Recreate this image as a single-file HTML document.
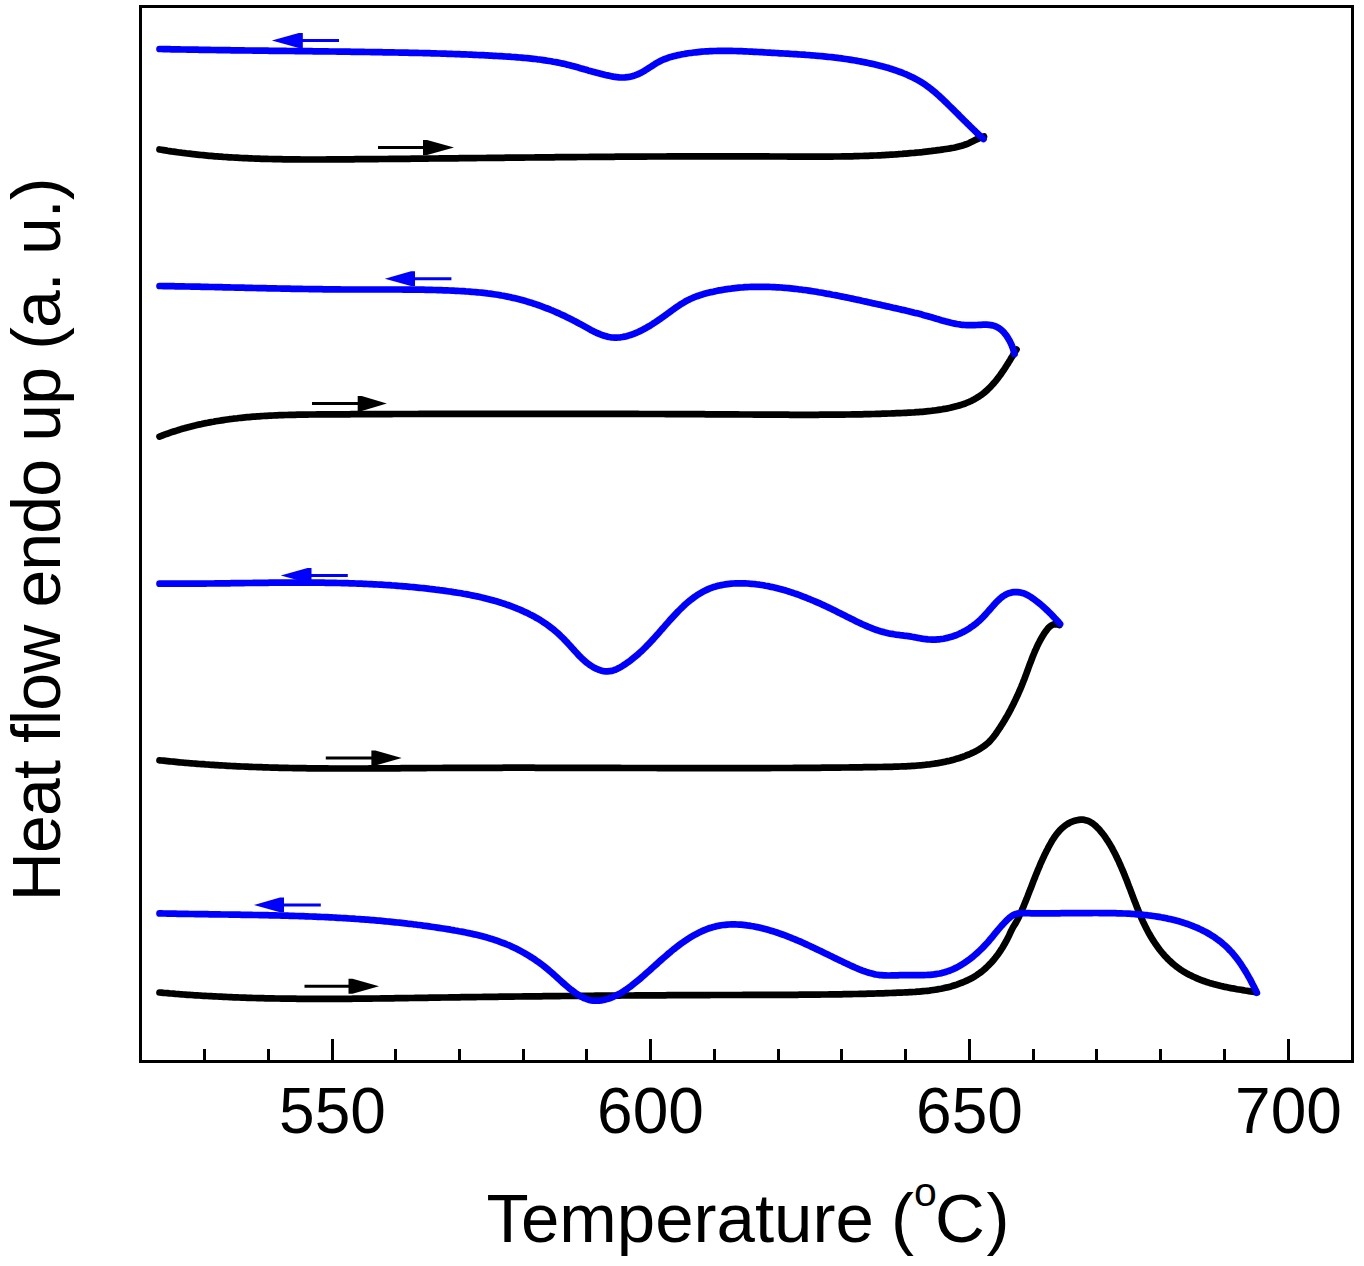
<!DOCTYPE html>
<html><head><meta charset="utf-8"><style>
html,body{margin:0;padding:0;background:#fff;}
body{width:1364px;height:1266px;overflow:hidden;position:relative;}
svg{position:absolute;left:0;top:0;}
.t{font-family:"Liberation Sans",sans-serif;font-size:64px;fill:#000;}
</style></head><body>
<svg width="1364" height="1266" viewBox="0 0 1364 1266">
<rect x="140.5" y="6.5" width="1212" height="1055" fill="none" stroke="#000" stroke-width="3"/>
<line x1="204.5" y1="1049" x2="204.5" y2="1060" stroke="#000" stroke-width="3"/>
<line x1="268.5" y1="1049" x2="268.5" y2="1060" stroke="#000" stroke-width="3"/>
<line x1="332.5" y1="1039" x2="332.5" y2="1060" stroke="#000" stroke-width="3"/>
<line x1="395.5" y1="1049" x2="395.5" y2="1060" stroke="#000" stroke-width="3"/>
<line x1="459.5" y1="1049" x2="459.5" y2="1060" stroke="#000" stroke-width="3"/>
<line x1="523.5" y1="1049" x2="523.5" y2="1060" stroke="#000" stroke-width="3"/>
<line x1="586.5" y1="1049" x2="586.5" y2="1060" stroke="#000" stroke-width="3"/>
<line x1="650.5" y1="1039" x2="650.5" y2="1060" stroke="#000" stroke-width="3"/>
<line x1="714.5" y1="1049" x2="714.5" y2="1060" stroke="#000" stroke-width="3"/>
<line x1="778.5" y1="1049" x2="778.5" y2="1060" stroke="#000" stroke-width="3"/>
<line x1="841.5" y1="1049" x2="841.5" y2="1060" stroke="#000" stroke-width="3"/>
<line x1="905.5" y1="1049" x2="905.5" y2="1060" stroke="#000" stroke-width="3"/>
<line x1="969.5" y1="1039" x2="969.5" y2="1060" stroke="#000" stroke-width="3"/>
<line x1="1033.5" y1="1049" x2="1033.5" y2="1060" stroke="#000" stroke-width="3"/>
<line x1="1096.5" y1="1049" x2="1096.5" y2="1060" stroke="#000" stroke-width="3"/>
<line x1="1160.5" y1="1049" x2="1160.5" y2="1060" stroke="#000" stroke-width="3"/>
<line x1="1224.5" y1="1049" x2="1224.5" y2="1060" stroke="#000" stroke-width="3"/>
<line x1="1288.5" y1="1039" x2="1288.5" y2="1060" stroke="#000" stroke-width="3"/>
<path d="M159.5,149.5 L161.5,149.8 L163.5,150.1 L165.5,150.4 L167.4,150.8 L169.4,151.1 L171.4,151.4 L173.4,151.6 L175.4,151.9 L177.4,152.2 L179.4,152.5 L181.4,152.7 L183.3,153.0 L185.3,153.2 L187.3,153.5 L189.3,153.7 L191.3,153.9 L193.3,154.2 L195.3,154.4 L197.3,154.6 L199.3,154.8 L201.3,155.0 L203.3,155.2 L205.3,155.4 L207.3,155.6 L209.2,155.8 L211.2,155.9 L213.2,156.1 L215.2,156.3 L217.2,156.4 L219.2,156.6 L221.2,156.7 L223.2,156.9 L225.2,157.0 L227.2,157.1 L229.2,157.3 L231.2,157.4 L233.2,157.5 L235.2,157.6 L237.2,157.7 L239.2,157.8 L241.2,158.0 L243.2,158.1 L245.2,158.1 L247.2,158.2 L249.2,158.3 L251.2,158.4 L253.2,158.5 L255.2,158.6 L257.2,158.6 L259.2,158.7 L261.2,158.8 L263.2,158.8 L265.2,158.9 L267.2,158.9 L269.2,159.0 L271.2,159.0 L273.2,159.1 L275.2,159.1 L277.2,159.2 L279.2,159.2 L281.2,159.2 L283.2,159.3 L285.2,159.3 L287.2,159.3 L289.2,159.4 L291.2,159.4 L293.3,159.4 L295.3,159.4 L297.3,159.4 L299.3,159.4 L301.3,159.5 L303.3,159.5 L305.3,159.5 L307.3,159.5 L309.3,159.5 L311.3,159.5 L313.3,159.5 L315.3,159.5 L317.3,159.5 L319.3,159.5 L321.3,159.5 L323.3,159.5 L325.3,159.5 L327.3,159.4 L329.3,159.4 L331.3,159.4 L333.3,159.4 L335.3,159.4 L337.4,159.4 L339.4,159.4 L341.4,159.4 L343.4,159.3 L345.4,159.3 L347.4,159.3 L349.4,159.3 L351.4,159.3 L353.4,159.3 L355.4,159.2 L357.4,159.2 L359.4,159.2 L361.4,159.2 L363.4,159.2 L365.4,159.2 L367.4,159.1 L369.4,159.1 L371.4,159.1 L373.4,159.1 L375.4,159.1 L377.4,159.1 L379.5,159.0 L381.5,159.0 L383.5,159.0 L385.5,159.0 L387.5,159.0 L389.5,158.9 L391.5,158.9 L393.5,158.9 L395.5,158.9 L397.5,158.9 L399.5,158.8 L401.5,158.8 L403.5,158.8 L405.5,158.8 L407.5,158.8 L409.5,158.8 L411.5,158.7 L413.5,158.7 L415.5,158.7 L417.5,158.7 L419.5,158.7 L421.5,158.6 L423.5,158.6 L425.5,158.6 L427.5,158.6 L429.5,158.5 L431.6,158.5 L433.6,158.5 L435.6,158.5 L437.6,158.5 L439.6,158.4 L441.6,158.4 L443.6,158.4 L445.6,158.4 L447.6,158.4 L449.6,158.3 L451.6,158.3 L453.6,158.3 L455.6,158.3 L457.6,158.3 L459.6,158.2 L461.6,158.2 L463.6,158.2 L465.6,158.2 L467.6,158.1 L469.6,158.1 L471.6,158.1 L473.6,158.1 L475.6,158.1 L477.6,158.0 L479.6,158.0 L481.6,158.0 L483.6,158.0 L485.6,158.0 L487.6,157.9 L489.6,157.9 L491.6,157.9 L493.6,157.9 L495.7,157.9 L497.7,157.8 L499.7,157.8 L501.7,157.8 L503.7,157.8 L505.7,157.7 L507.7,157.7 L509.7,157.7 L511.7,157.7 L513.7,157.7 L515.7,157.6 L517.7,157.6 L519.7,157.6 L521.7,157.6 L523.7,157.6 L525.7,157.5 L527.7,157.5 L529.7,157.5 L531.7,157.5 L533.7,157.5 L535.7,157.4 L537.7,157.4 L539.7,157.4 L541.7,157.4 L543.7,157.4 L545.7,157.3 L547.7,157.3 L549.7,157.3 L551.7,157.3 L553.7,157.3 L555.7,157.2 L557.7,157.2 L559.7,157.2 L561.7,157.2 L563.7,157.2 L565.7,157.2 L567.8,157.1 L569.8,157.1 L571.8,157.1 L573.8,157.1 L575.8,157.1 L577.8,157.0 L579.8,157.0 L581.8,157.0 L583.8,157.0 L585.8,157.0 L587.8,157.0 L589.8,156.9 L591.8,156.9 L593.8,156.9 L595.8,156.9 L597.8,156.9 L599.8,156.9 L601.8,156.8 L603.8,156.8 L605.8,156.8 L607.8,156.8 L609.8,156.8 L611.8,156.8 L613.8,156.8 L615.8,156.7 L617.8,156.7 L619.8,156.7 L621.8,156.7 L623.8,156.7 L625.8,156.7 L627.8,156.7 L629.8,156.6 L631.8,156.6 L633.9,156.6 L635.9,156.6 L637.9,156.6 L639.9,156.6 L641.9,156.6 L643.9,156.6 L645.9,156.6 L647.9,156.5 L649.9,156.5 L651.9,156.5 L653.9,156.5 L655.9,156.5 L657.9,156.5 L659.9,156.5 L661.9,156.5 L663.9,156.5 L665.9,156.5 L667.9,156.4 L669.9,156.4 L671.9,156.4 L673.9,156.4 L675.9,156.4 L677.9,156.4 L679.9,156.4 L681.9,156.4 L683.9,156.4 L686.0,156.4 L688.0,156.4 L690.0,156.4 L692.0,156.4 L694.0,156.4 L696.0,156.4 L698.0,156.4 L700.0,156.4 L702.0,156.4 L704.0,156.4 L706.0,156.3 L708.0,156.3 L710.0,156.3 L712.0,156.3 L714.0,156.3 L716.0,156.3 L718.0,156.3 L720.0,156.3 L722.0,156.3 L724.0,156.3 L726.0,156.3 L728.0,156.3 L730.1,156.3 L732.1,156.3 L734.1,156.3 L736.1,156.4 L738.1,156.4 L740.1,156.4 L742.1,156.4 L744.1,156.4 L746.1,156.4 L748.1,156.4 L750.1,156.4 L752.1,156.4 L754.1,156.4 L756.1,156.4 L758.1,156.4 L760.1,156.4 L762.1,156.4 L764.1,156.4 L766.2,156.4 L768.2,156.4 L770.2,156.5 L772.2,156.5 L774.2,156.5 L776.2,156.5 L778.2,156.5 L780.2,156.5 L782.2,156.5 L784.2,156.5 L786.2,156.5 L788.2,156.6 L790.2,156.6 L792.2,156.6 L794.2,156.6 L796.2,156.6 L798.3,156.6 L800.3,156.6 L802.3,156.6 L804.3,156.6 L806.3,156.6 L808.3,156.6 L810.3,156.6 L812.3,156.6 L814.3,156.6 L816.3,156.6 L818.3,156.6 L820.3,156.6 L822.3,156.6 L824.3,156.6 L826.3,156.6 L828.3,156.6 L830.3,156.6 L832.3,156.6 L834.4,156.5 L836.4,156.5 L838.4,156.5 L840.4,156.5 L842.4,156.4 L844.4,156.4 L846.4,156.4 L848.4,156.3 L850.4,156.3 L852.4,156.3 L854.4,156.2 L856.4,156.2 L858.4,156.1 L860.4,156.0 L862.4,156.0 L864.4,155.9 L866.4,155.9 L868.4,155.8 L870.4,155.7 L872.4,155.6 L874.4,155.5 L876.4,155.5 L878.4,155.4 L880.4,155.3 L882.4,155.2 L884.4,155.1 L886.4,154.9 L888.4,154.8 L890.4,154.7 L892.4,154.6 L894.4,154.5 L896.4,154.3 L898.4,154.2 L900.3,154.0 L902.3,153.9 L904.3,153.7 L906.3,153.6 L908.3,153.4 L910.3,153.2 L912.3,153.0 L914.3,152.9 L916.3,152.7 L918.3,152.5 L920.3,152.3 L922.3,152.1 L924.2,151.8 L926.2,151.6 L928.2,151.4 L930.2,151.2 L932.2,150.9 L934.2,150.7 L936.2,150.4 L938.1,150.1 L940.1,149.9 L942.1,149.6 L944.1,149.3 L946.1,149.0 L948.1,148.7 L950.0,148.4 L952.0,148.0 L954.0,147.7 L955.9,147.3 L957.9,146.8 L959.8,146.3 L961.7,145.8 L963.6,145.2 L965.5,144.5 L967.4,143.8 L969.3,143.0 L971.1,142.1 L972.9,141.2 L974.7,140.3 L976.6,139.4 L978.4,138.6 L980.2,137.8 L982.1,137.1 L984.0,136.5" fill="none" stroke="#000000" stroke-width="6.7" stroke-linejoin="round" stroke-linecap="round"/>
<path d="M159.5,436.6 L161.4,435.9 L163.3,435.1 L165.2,434.4 L167.1,433.8 L169.0,433.1 L170.9,432.4 L172.8,431.8 L174.8,431.2 L176.7,430.6 L178.6,430.0 L180.5,429.4 L182.4,428.8 L184.4,428.3 L186.3,427.7 L188.2,427.2 L190.2,426.7 L192.1,426.2 L194.1,425.7 L196.0,425.3 L197.9,424.8 L199.9,424.4 L201.8,424.0 L203.8,423.5 L205.7,423.1 L207.7,422.8 L209.7,422.4 L211.6,422.0 L213.6,421.7 L215.5,421.3 L217.5,421.0 L219.5,420.7 L221.4,420.4 L223.4,420.1 L225.4,419.8 L227.3,419.5 L229.3,419.2 L231.3,419.0 L233.3,418.7 L235.2,418.5 L237.2,418.3 L239.2,418.0 L241.2,417.8 L243.2,417.6 L245.2,417.4 L247.1,417.2 L249.1,417.1 L251.1,416.9 L253.1,416.7 L255.1,416.6 L257.1,416.4 L259.1,416.3 L261.1,416.1 L263.1,416.0 L265.1,415.9 L267.1,415.8 L269.1,415.7 L271.1,415.6 L273.1,415.5 L275.1,415.4 L277.1,415.3 L279.1,415.2 L281.1,415.2 L283.1,415.1 L285.1,415.0 L287.1,415.0 L289.1,414.9 L291.1,414.8 L293.1,414.8 L295.1,414.8 L297.1,414.7 L299.1,414.7 L301.1,414.6 L303.1,414.6 L305.2,414.6 L307.2,414.6 L309.2,414.5 L311.2,414.5 L313.2,414.5 L315.2,414.5 L317.2,414.4 L319.2,414.4 L321.2,414.4 L323.2,414.4 L325.3,414.4 L327.3,414.4 L329.3,414.4 L331.3,414.4 L333.3,414.3 L335.3,414.3 L337.3,414.3 L339.3,414.3 L341.3,414.3 L343.3,414.3 L345.3,414.3 L347.4,414.3 L349.4,414.3 L351.4,414.2 L353.4,414.2 L355.4,414.2 L357.4,414.2 L359.4,414.2 L361.4,414.2 L363.4,414.2 L365.4,414.2 L367.4,414.2 L369.4,414.2 L371.5,414.1 L373.5,414.1 L375.5,414.1 L377.5,414.1 L379.5,414.1 L381.5,414.1 L383.5,414.1 L385.5,414.1 L387.5,414.1 L389.5,414.1 L391.5,414.1 L393.5,414.0 L395.5,414.0 L397.5,414.0 L399.5,414.0 L401.6,414.0 L403.6,414.0 L405.6,414.0 L407.6,414.0 L409.6,414.0 L411.6,414.0 L413.6,414.0 L415.6,414.0 L417.6,414.0 L419.6,413.9 L421.6,413.9 L423.6,413.9 L425.6,413.9 L427.6,413.9 L429.6,413.9 L431.6,413.9 L433.6,413.9 L435.6,413.9 L437.6,413.9 L439.6,413.9 L441.7,413.9 L443.7,413.9 L445.7,413.9 L447.7,413.9 L449.7,413.9 L451.7,413.9 L453.7,413.9 L455.7,413.8 L457.7,413.8 L459.7,413.8 L461.7,413.8 L463.7,413.8 L465.7,413.8 L467.7,413.8 L469.7,413.8 L471.7,413.8 L473.7,413.8 L475.7,413.8 L477.7,413.8 L479.7,413.8 L481.7,413.8 L483.7,413.8 L485.7,413.8 L487.7,413.8 L489.7,413.8 L491.7,413.8 L493.7,413.8 L495.7,413.8 L497.7,413.8 L499.7,413.8 L501.7,413.8 L503.7,413.8 L505.8,413.8 L507.8,413.8 L509.8,413.8 L511.8,413.8 L513.8,413.8 L515.8,413.8 L517.8,413.8 L519.8,413.8 L521.8,413.8 L523.8,413.8 L525.8,413.8 L527.8,413.8 L529.8,413.8 L531.8,413.8 L533.8,413.8 L535.8,413.8 L537.8,413.8 L539.8,413.8 L541.8,413.8 L543.8,413.8 L545.8,413.8 L547.8,413.8 L549.8,413.8 L551.8,413.8 L553.8,413.8 L555.8,413.8 L557.8,413.8 L559.8,413.8 L561.8,413.8 L563.8,413.8 L565.8,413.8 L567.8,413.8 L569.8,413.8 L571.8,413.8 L573.8,413.8 L575.8,413.8 L577.8,413.8 L579.8,413.8 L581.8,413.8 L583.8,413.8 L585.8,413.8 L587.8,413.8 L589.8,413.8 L591.8,413.8 L593.8,413.8 L595.8,413.8 L597.8,413.8 L599.8,413.8 L601.8,413.8 L603.8,413.8 L605.8,413.9 L607.8,413.9 L609.8,413.9 L611.8,413.9 L613.8,413.9 L615.8,413.9 L617.8,413.9 L619.8,413.9 L621.8,413.9 L623.8,413.9 L625.8,413.9 L627.8,413.9 L629.8,413.9 L631.8,413.9 L633.8,413.9 L635.8,413.9 L637.9,413.9 L639.9,414.0 L641.9,414.0 L643.9,414.0 L645.9,414.0 L647.9,414.0 L649.9,414.0 L651.9,414.0 L653.9,414.0 L655.9,414.0 L657.9,414.0 L659.9,414.0 L661.9,414.0 L663.9,414.0 L665.9,414.1 L667.9,414.1 L669.9,414.1 L671.9,414.1 L673.9,414.1 L675.9,414.1 L677.9,414.1 L679.9,414.1 L681.9,414.1 L683.9,414.1 L685.9,414.1 L687.9,414.2 L689.9,414.2 L691.9,414.2 L693.9,414.2 L695.9,414.2 L697.9,414.2 L699.9,414.2 L701.9,414.2 L703.9,414.2 L705.9,414.3 L707.9,414.3 L709.9,414.3 L711.9,414.3 L713.9,414.3 L715.9,414.3 L717.9,414.3 L719.9,414.3 L721.9,414.3 L723.9,414.4 L725.9,414.4 L727.9,414.4 L730.0,414.4 L732.0,414.4 L734.0,414.4 L736.0,414.4 L738.0,414.4 L740.0,414.5 L742.0,414.5 L744.0,414.5 L746.0,414.5 L748.0,414.5 L750.0,414.5 L752.0,414.5 L754.0,414.6 L756.0,414.6 L758.0,414.6 L760.0,414.6 L762.0,414.6 L764.0,414.6 L766.0,414.6 L768.0,414.6 L770.0,414.7 L772.0,414.7 L774.0,414.7 L776.0,414.7 L778.1,414.7 L780.1,414.7 L782.1,414.7 L784.1,414.7 L786.1,414.7 L788.1,414.7 L790.1,414.8 L792.1,414.8 L794.1,414.8 L796.1,414.8 L798.1,414.8 L800.1,414.8 L802.1,414.8 L804.1,414.8 L806.1,414.8 L808.1,414.8 L810.1,414.8 L812.1,414.8 L814.1,414.8 L816.1,414.8 L818.1,414.8 L820.2,414.7 L822.2,414.7 L824.2,414.7 L826.2,414.7 L828.2,414.7 L830.2,414.7 L832.2,414.7 L834.2,414.7 L836.2,414.6 L838.2,414.6 L840.2,414.6 L842.2,414.6 L844.2,414.6 L846.2,414.5 L848.2,414.5 L850.2,414.5 L852.2,414.4 L854.2,414.4 L856.2,414.4 L858.2,414.3 L860.2,414.3 L862.2,414.3 L864.3,414.2 L866.3,414.2 L868.3,414.1 L870.3,414.1 L872.3,414.0 L874.3,414.0 L876.3,413.9 L878.3,413.9 L880.3,413.8 L882.3,413.7 L884.3,413.7 L886.3,413.6 L888.3,413.5 L890.3,413.5 L892.3,413.4 L894.3,413.3 L896.3,413.2 L898.3,413.2 L900.3,413.1 L902.3,413.0 L904.3,412.9 L906.3,412.8 L908.3,412.7 L910.3,412.6 L912.3,412.5 L914.3,412.4 L916.3,412.2 L918.3,412.1 L920.3,411.9 L922.3,411.8 L924.3,411.6 L926.3,411.4 L928.3,411.2 L930.3,411.0 L932.3,410.7 L934.3,410.5 L936.3,410.2 L938.3,409.9 L940.3,409.6 L942.3,409.3 L944.3,408.9 L946.3,408.6 L948.3,408.2 L950.3,407.8 L952.3,407.3 L954.2,406.8 L956.2,406.3 L958.1,405.8 L960.0,405.2 L961.9,404.6 L963.8,404.0 L965.7,403.3 L967.5,402.5 L969.3,401.8 L971.1,401.0 L972.8,400.1 L974.6,399.2 L976.3,398.2 L977.9,397.2 L979.6,396.1 L981.2,395.0 L982.7,393.9 L984.3,392.6 L985.7,391.4 L987.2,390.1 L988.6,388.7 L990.0,387.3 L991.4,385.9 L992.7,384.4 L994.1,382.9 L995.4,381.4 L996.6,379.8 L997.9,378.2 L999.1,376.6 L1000.3,375.0 L1001.5,373.3 L1002.6,371.6 L1003.8,370.0 L1004.9,368.3 L1006.0,366.5 L1007.1,364.8 L1008.2,363.1 L1009.2,361.4 L1010.3,359.7 L1011.3,357.9 L1012.4,356.2 L1013.4,354.5 L1014.4,352.8 L1015.4,351.1 L1016.5,349.5" fill="none" stroke="#000000" stroke-width="6.7" stroke-linejoin="round" stroke-linecap="round"/>
<path d="M159.5,760.3 L161.5,760.5 L163.5,760.7 L165.5,760.9 L167.5,761.1 L169.5,761.3 L171.5,761.5 L173.5,761.7 L175.5,761.9 L177.5,762.1 L179.4,762.3 L181.4,762.5 L183.4,762.7 L185.4,762.8 L187.4,763.0 L189.4,763.2 L191.4,763.3 L193.4,763.5 L195.4,763.6 L197.4,763.8 L199.4,764.0 L201.4,764.1 L203.4,764.2 L205.4,764.4 L207.4,764.5 L209.4,764.7 L211.4,764.8 L213.4,764.9 L215.4,765.1 L217.4,765.2 L219.4,765.3 L221.4,765.4 L223.4,765.5 L225.4,765.6 L227.4,765.8 L229.4,765.9 L231.4,766.0 L233.4,766.1 L235.4,766.2 L237.4,766.3 L239.4,766.4 L241.4,766.5 L243.4,766.5 L245.4,766.6 L247.4,766.7 L249.4,766.8 L251.4,766.9 L253.4,767.0 L255.4,767.0 L257.4,767.1 L259.4,767.2 L261.4,767.2 L263.4,767.3 L265.4,767.4 L267.4,767.4 L269.4,767.5 L271.4,767.6 L273.4,767.6 L275.4,767.7 L277.4,767.7 L279.4,767.8 L281.4,767.8 L283.4,767.9 L285.4,767.9 L287.4,767.9 L289.4,768.0 L291.4,768.0 L293.4,768.1 L295.4,768.1 L297.4,768.1 L299.4,768.2 L301.4,768.2 L303.4,768.2 L305.4,768.2 L307.4,768.3 L309.4,768.3 L311.4,768.3 L313.4,768.3 L315.4,768.4 L317.4,768.4 L319.4,768.4 L321.4,768.4 L323.4,768.4 L325.4,768.4 L327.4,768.4 L329.4,768.5 L331.4,768.5 L333.4,768.5 L335.4,768.5 L337.4,768.5 L339.4,768.5 L341.4,768.5 L343.4,768.5 L345.4,768.5 L347.4,768.5 L349.4,768.5 L351.4,768.5 L353.4,768.5 L355.4,768.5 L357.4,768.5 L359.4,768.5 L361.5,768.5 L363.5,768.5 L365.5,768.5 L367.5,768.5 L369.5,768.4 L371.5,768.4 L373.5,768.4 L375.5,768.4 L377.5,768.4 L379.5,768.4 L381.5,768.4 L383.5,768.4 L385.5,768.4 L387.5,768.3 L389.5,768.3 L391.5,768.3 L393.5,768.3 L395.5,768.3 L397.5,768.3 L399.5,768.3 L401.5,768.2 L403.5,768.2 L405.5,768.2 L407.5,768.2 L409.5,768.2 L411.5,768.2 L413.5,768.2 L415.5,768.1 L417.5,768.1 L419.5,768.1 L421.5,768.1 L423.6,768.1 L425.6,768.1 L427.6,768.0 L429.6,768.0 L431.6,768.0 L433.6,768.0 L435.6,768.0 L437.6,768.0 L439.6,768.0 L441.6,768.0 L443.6,767.9 L445.6,767.9 L447.6,767.9 L449.6,767.9 L451.6,767.9 L453.6,767.9 L455.6,767.9 L457.6,767.9 L459.6,767.9 L461.6,767.9 L463.6,767.8 L465.6,767.8 L467.6,767.8 L469.6,767.8 L471.6,767.8 L473.6,767.8 L475.6,767.8 L477.6,767.8 L479.6,767.8 L481.6,767.8 L483.6,767.8 L485.6,767.8 L487.7,767.8 L489.7,767.8 L491.7,767.8 L493.7,767.8 L495.7,767.8 L497.7,767.8 L499.7,767.8 L501.7,767.8 L503.7,767.7 L505.7,767.7 L507.7,767.7 L509.7,767.7 L511.7,767.7 L513.7,767.7 L515.7,767.7 L517.7,767.7 L519.7,767.7 L521.7,767.7 L523.7,767.7 L525.7,767.7 L527.7,767.7 L529.7,767.7 L531.7,767.7 L533.7,767.7 L535.7,767.8 L537.7,767.8 L539.7,767.8 L541.7,767.8 L543.7,767.8 L545.7,767.8 L547.7,767.8 L549.7,767.8 L551.7,767.8 L553.7,767.8 L555.7,767.8 L557.7,767.8 L559.7,767.8 L561.8,767.8 L563.8,767.8 L565.8,767.8 L567.8,767.8 L569.8,767.8 L571.8,767.8 L573.8,767.8 L575.8,767.8 L577.8,767.8 L579.8,767.8 L581.8,767.8 L583.8,767.8 L585.8,767.8 L587.8,767.9 L589.8,767.9 L591.8,767.9 L593.8,767.9 L595.8,767.9 L597.8,767.9 L599.8,767.9 L601.8,767.9 L603.8,767.9 L605.8,767.9 L607.8,767.9 L609.8,767.9 L611.8,767.9 L613.8,767.9 L615.8,767.9 L617.8,767.9 L619.8,767.9 L621.8,768.0 L623.8,768.0 L625.8,768.0 L627.8,768.0 L629.8,768.0 L631.8,768.0 L633.8,768.0 L635.8,768.0 L637.8,768.0 L639.8,768.0 L641.8,768.0 L643.8,768.0 L645.8,768.0 L647.8,768.0 L649.9,768.0 L651.9,768.0 L653.9,768.0 L655.9,768.0 L657.9,768.1 L659.9,768.1 L661.9,768.1 L663.9,768.1 L665.9,768.1 L667.9,768.1 L669.9,768.1 L671.9,768.1 L673.9,768.1 L675.9,768.1 L677.9,768.1 L679.9,768.1 L681.9,768.1 L683.9,768.1 L685.9,768.1 L687.9,768.1 L689.9,768.1 L691.9,768.1 L693.9,768.1 L695.9,768.1 L697.9,768.1 L699.9,768.1 L701.9,768.1 L703.9,768.1 L705.9,768.1 L707.9,768.1 L709.9,768.1 L711.9,768.1 L713.9,768.1 L715.9,768.1 L717.9,768.1 L719.9,768.1 L721.9,768.1 L723.9,768.1 L725.9,768.1 L727.9,768.1 L729.9,768.1 L731.9,768.1 L733.9,768.1 L735.9,768.1 L737.9,768.1 L739.9,768.1 L741.9,768.1 L743.9,768.1 L745.9,768.1 L748.0,768.1 L750.0,768.1 L752.0,768.1 L754.0,768.1 L756.0,768.1 L758.0,768.1 L760.0,768.1 L762.0,768.1 L764.0,768.1 L766.0,768.1 L768.0,768.1 L770.0,768.1 L772.0,768.0 L774.0,768.0 L776.0,768.0 L778.0,768.0 L780.0,768.0 L782.0,768.0 L784.0,768.0 L786.0,768.0 L788.0,768.0 L790.0,768.0 L792.0,768.0 L794.0,767.9 L796.0,767.9 L798.0,767.9 L800.0,767.9 L802.0,767.9 L804.0,767.9 L806.0,767.9 L808.0,767.8 L810.0,767.8 L812.0,767.8 L814.0,767.8 L816.0,767.8 L818.0,767.8 L820.0,767.8 L822.0,767.7 L824.0,767.7 L826.0,767.7 L828.0,767.7 L830.0,767.7 L832.0,767.6 L834.0,767.6 L836.0,767.6 L838.0,767.6 L840.0,767.6 L842.0,767.5 L844.0,767.5 L846.0,767.5 L848.1,767.5 L850.1,767.4 L852.1,767.4 L854.1,767.4 L856.1,767.4 L858.1,767.3 L860.1,767.3 L862.1,767.3 L864.1,767.2 L866.1,767.2 L868.1,767.2 L870.1,767.2 L872.1,767.1 L874.1,767.1 L876.1,767.1 L878.1,767.0 L880.1,767.0 L882.1,767.0 L884.1,766.9 L886.1,766.9 L888.1,766.9 L890.1,766.8 L892.1,766.8 L894.1,766.7 L896.1,766.7 L898.1,766.6 L900.1,766.5 L902.1,766.4 L904.1,766.4 L906.1,766.3 L908.1,766.2 L910.1,766.1 L912.1,765.9 L914.1,765.8 L916.1,765.7 L918.1,765.5 L920.1,765.3 L922.1,765.2 L924.1,765.0 L926.1,764.7 L928.1,764.5 L930.1,764.3 L932.1,764.0 L934.0,763.7 L936.0,763.4 L938.0,763.1 L940.0,762.7 L941.9,762.4 L943.9,762.0 L945.9,761.6 L947.8,761.1 L949.8,760.7 L951.7,760.2 L953.6,759.7 L955.6,759.1 L957.5,758.6 L959.4,758.0 L961.3,757.3 L963.2,756.7 L965.0,756.0 L966.9,755.2 L968.8,754.5 L970.6,753.7 L972.4,752.8 L974.3,752.0 L976.0,751.1 L977.8,750.1 L979.5,749.1 L981.2,748.0 L982.9,746.9 L984.5,745.7 L986.1,744.5 L987.6,743.2 L989.1,741.9 L990.5,740.4 L991.8,738.9 L993.1,737.4 L994.3,735.8 L995.5,734.2 L996.7,732.5 L997.8,730.8 L998.9,729.2 L1000.1,727.5 L1001.1,725.8 L1002.2,724.1 L1003.3,722.4 L1004.3,720.7 L1005.3,719.0 L1006.3,717.3 L1007.3,715.6 L1008.3,713.8 L1009.2,712.1 L1010.2,710.3 L1011.1,708.6 L1012.0,706.8 L1012.9,705.1 L1013.8,703.3 L1014.6,701.5 L1015.5,699.7 L1016.3,697.9 L1017.2,696.1 L1018.0,694.3 L1018.8,692.5 L1019.6,690.6 L1020.4,688.8 L1021.2,687.0 L1021.9,685.1 L1022.7,683.2 L1023.4,681.4 L1024.2,679.5 L1024.9,677.6 L1025.6,675.7 L1026.3,673.8 L1027.0,671.9 L1027.7,670.0 L1028.4,668.0 L1029.1,666.1 L1029.8,664.2 L1030.6,662.3 L1031.3,660.4 L1032.0,658.5 L1032.7,656.6 L1033.5,654.7 L1034.3,652.8 L1035.0,651.0 L1035.9,649.1 L1036.7,647.3 L1037.5,645.5 L1038.4,643.7 L1039.3,642.0 L1040.2,640.2 L1041.2,638.5 L1042.2,636.8 L1043.2,635.1 L1044.2,633.5 L1045.3,631.9 L1046.5,630.4 L1047.6,628.8 L1048.9,627.4 L1050.2,626.2 L1051.7,625.2 L1053.3,624.5 L1055.2,624.1 L1057.2,624.3 L1059.5,625.0" fill="none" stroke="#000000" stroke-width="6.7" stroke-linejoin="round" stroke-linecap="round"/>
<path d="M159.5,992.5 L161.5,992.7 L163.5,992.9 L165.5,993.0 L167.5,993.2 L169.5,993.4 L171.5,993.5 L173.5,993.7 L175.5,993.9 L177.5,994.0 L179.4,994.2 L181.4,994.3 L183.4,994.5 L185.4,994.6 L187.4,994.8 L189.4,994.9 L191.4,995.0 L193.4,995.2 L195.4,995.3 L197.4,995.4 L199.4,995.5 L201.4,995.7 L203.4,995.8 L205.4,995.9 L207.4,996.0 L209.4,996.1 L211.4,996.2 L213.4,996.3 L215.4,996.4 L217.4,996.5 L219.4,996.6 L221.4,996.7 L223.4,996.8 L225.4,996.9 L227.4,997.0 L229.4,997.1 L231.4,997.2 L233.4,997.3 L235.4,997.3 L237.4,997.4 L239.4,997.5 L241.4,997.6 L243.3,997.6 L245.3,997.7 L247.3,997.8 L249.3,997.8 L251.3,997.9 L253.3,998.0 L255.3,998.0 L257.3,998.1 L259.3,998.1 L261.3,998.2 L263.3,998.2 L265.3,998.3 L267.3,998.3 L269.3,998.3 L271.3,998.4 L273.3,998.4 L275.3,998.5 L277.3,998.5 L279.3,998.5 L281.3,998.6 L283.3,998.6 L285.3,998.6 L287.3,998.7 L289.3,998.7 L291.3,998.7 L293.3,998.7 L295.3,998.7 L297.3,998.8 L299.3,998.8 L301.3,998.8 L303.3,998.8 L305.3,998.8 L307.3,998.8 L309.3,998.8 L311.3,998.8 L313.3,998.9 L315.3,998.9 L317.3,998.9 L319.3,998.9 L321.3,998.9 L323.3,998.9 L325.3,998.9 L327.3,998.9 L329.3,998.9 L331.3,998.9 L333.3,998.9 L335.3,998.8 L337.3,998.8 L339.3,998.8 L341.3,998.8 L343.3,998.8 L345.3,998.8 L347.3,998.8 L349.3,998.8 L351.3,998.8 L353.3,998.7 L355.3,998.7 L357.3,998.7 L359.3,998.7 L361.3,998.7 L363.3,998.7 L365.4,998.6 L367.4,998.6 L369.4,998.6 L371.4,998.6 L373.4,998.5 L375.4,998.5 L377.4,998.5 L379.4,998.5 L381.4,998.4 L383.4,998.4 L385.4,998.4 L387.4,998.4 L389.4,998.3 L391.4,998.3 L393.4,998.3 L395.4,998.2 L397.4,998.2 L399.4,998.2 L401.4,998.2 L403.4,998.1 L405.4,998.1 L407.4,998.1 L409.4,998.0 L411.4,998.0 L413.4,998.0 L415.4,997.9 L417.4,997.9 L419.4,997.9 L421.4,997.9 L423.4,997.8 L425.4,997.8 L427.4,997.8 L429.4,997.7 L431.4,997.7 L433.4,997.7 L435.4,997.6 L437.4,997.6 L439.4,997.6 L441.4,997.5 L443.4,997.5 L445.4,997.5 L447.4,997.5 L449.4,997.4 L451.4,997.4 L453.4,997.4 L455.4,997.3 L457.4,997.3 L459.4,997.3 L461.4,997.2 L463.4,997.2 L465.4,997.2 L467.4,997.2 L469.4,997.1 L471.4,997.1 L473.4,997.1 L475.4,997.1 L477.4,997.0 L479.4,997.0 L481.4,997.0 L483.4,996.9 L485.4,996.9 L487.4,996.9 L489.4,996.9 L491.4,996.8 L493.4,996.8 L495.4,996.8 L497.4,996.8 L499.4,996.7 L501.4,996.7 L503.4,996.7 L505.4,996.7 L507.4,996.6 L509.4,996.6 L511.4,996.6 L513.4,996.6 L515.4,996.5 L517.4,996.5 L519.4,996.5 L521.4,996.5 L523.4,996.4 L525.4,996.4 L527.4,996.4 L529.4,996.4 L531.4,996.4 L533.4,996.3 L535.4,996.3 L537.4,996.3 L539.4,996.3 L541.4,996.3 L543.4,996.2 L545.4,996.2 L547.4,996.2 L549.4,996.2 L551.4,996.1 L553.4,996.1 L555.4,996.1 L557.4,996.1 L559.4,996.1 L561.4,996.0 L563.4,996.0 L565.4,996.0 L567.4,996.0 L569.4,996.0 L571.4,996.0 L573.4,995.9 L575.4,995.9 L577.4,995.9 L579.4,995.9 L581.4,995.9 L583.4,995.8 L585.4,995.8 L587.4,995.8 L589.4,995.8 L591.4,995.8 L593.4,995.8 L595.4,995.7 L597.4,995.7 L599.4,995.7 L601.4,995.7 L603.4,995.7 L605.4,995.7 L607.4,995.6 L609.4,995.6 L611.4,995.6 L613.4,995.6 L615.4,995.6 L617.4,995.6 L619.4,995.6 L621.4,995.5 L623.4,995.5 L625.4,995.5 L627.4,995.5 L629.4,995.5 L631.4,995.5 L633.4,995.5 L635.4,995.4 L637.4,995.4 L639.4,995.4 L641.4,995.4 L643.4,995.4 L645.4,995.4 L647.4,995.4 L649.4,995.4 L651.4,995.3 L653.4,995.3 L655.4,995.3 L657.4,995.3 L659.4,995.3 L661.4,995.3 L663.4,995.3 L665.4,995.3 L667.4,995.2 L669.4,995.2 L671.4,995.2 L673.4,995.2 L675.4,995.2 L677.4,995.2 L679.4,995.2 L681.4,995.2 L683.4,995.2 L685.4,995.2 L687.4,995.1 L689.4,995.1 L691.4,995.1 L693.4,995.1 L695.4,995.1 L697.4,995.1 L699.4,995.1 L701.4,995.1 L703.4,995.1 L705.4,995.1 L707.4,995.1 L709.4,995.1 L711.4,995.0 L713.4,995.0 L715.4,995.0 L717.4,995.0 L719.4,995.0 L721.4,995.0 L723.4,995.0 L725.4,995.0 L727.4,995.0 L729.4,995.0 L731.4,995.0 L733.4,995.0 L735.4,995.0 L737.4,995.0 L739.4,995.0 L741.4,995.0 L743.4,994.9 L745.4,994.9 L747.4,994.9 L749.5,994.9 L751.5,994.9 L753.5,994.9 L755.5,994.9 L757.5,994.9 L759.5,994.9 L761.5,994.9 L763.5,994.9 L765.5,994.9 L767.5,994.9 L769.5,994.9 L771.5,994.9 L773.5,994.9 L775.5,994.9 L777.5,994.8 L779.5,994.8 L781.5,994.8 L783.5,994.8 L785.5,994.8 L787.5,994.8 L789.5,994.8 L791.5,994.8 L793.5,994.8 L795.5,994.8 L797.5,994.8 L799.5,994.7 L801.5,994.7 L803.5,994.7 L805.5,994.7 L807.5,994.7 L809.5,994.7 L811.5,994.6 L813.5,994.6 L815.5,994.6 L817.5,994.6 L819.5,994.6 L821.5,994.5 L823.5,994.5 L825.5,994.5 L827.5,994.5 L829.5,994.4 L831.5,994.4 L833.5,994.4 L835.5,994.4 L837.5,994.3 L839.5,994.3 L841.5,994.3 L843.5,994.2 L845.5,994.2 L847.5,994.2 L849.5,994.1 L851.5,994.1 L853.5,994.0 L855.5,994.0 L857.5,994.0 L859.5,993.9 L861.5,993.9 L863.5,993.8 L865.5,993.8 L867.5,993.7 L869.5,993.7 L871.5,993.6 L873.5,993.6 L875.5,993.5 L877.5,993.4 L879.5,993.4 L881.5,993.3 L883.5,993.3 L885.5,993.2 L887.5,993.1 L889.4,993.0 L891.4,993.0 L893.4,992.9 L895.4,992.8 L897.4,992.7 L899.4,992.7 L901.4,992.6 L903.4,992.5 L905.4,992.4 L907.4,992.3 L909.4,992.2 L911.4,992.1 L913.4,992.0 L915.4,991.9 L917.3,991.7 L919.3,991.6 L921.3,991.4 L923.3,991.2 L925.3,991.0 L927.3,990.8 L929.3,990.6 L931.3,990.3 L933.3,990.0 L935.3,989.7 L937.3,989.4 L939.2,989.0 L941.2,988.7 L943.2,988.3 L945.2,987.8 L947.1,987.4 L949.1,986.9 L951.1,986.4 L953.0,985.8 L954.9,985.2 L956.8,984.6 L958.7,983.9 L960.6,983.2 L962.5,982.5 L964.3,981.7 L966.1,980.9 L967.9,980.1 L969.7,979.2 L971.5,978.3 L973.2,977.3 L974.9,976.3 L976.6,975.2 L978.2,974.1 L979.8,973.0 L981.4,971.8 L983.0,970.5 L984.5,969.2 L986.0,967.9 L987.4,966.5 L988.8,965.1 L990.2,963.7 L991.6,962.2 L992.9,960.7 L994.2,959.2 L995.5,957.6 L996.7,956.0 L997.9,954.4 L999.1,952.8 L1000.2,951.1 L1001.3,949.4 L1002.4,947.7 L1003.4,946.0 L1004.4,944.3 L1005.4,942.5 L1006.4,940.8 L1007.3,939.0 L1008.2,937.2 L1009.1,935.5 L1009.9,933.7 L1010.7,931.9 L1011.5,930.2 L1012.4,928.5 L1013.3,926.8 L1014.3,925.2 L1015.3,923.6 L1016.3,922.0 L1017.2,920.3 L1018.1,918.5 L1019.0,916.7 L1019.8,914.9 L1020.6,913.1 L1021.4,911.3 L1022.2,909.4 L1023.0,907.6 L1023.8,905.8 L1024.5,903.9 L1025.3,902.1 L1026.0,900.3 L1026.8,898.4 L1027.5,896.6 L1028.2,894.7 L1028.9,892.9 L1029.6,891.0 L1030.4,889.2 L1031.1,887.3 L1031.8,885.5 L1032.5,883.6 L1033.2,881.8 L1033.9,879.9 L1034.7,878.1 L1035.4,876.2 L1036.1,874.4 L1036.9,872.6 L1037.6,870.7 L1038.4,868.9 L1039.2,867.0 L1039.9,865.2 L1040.7,863.3 L1041.6,861.5 L1042.4,859.7 L1043.2,857.9 L1044.1,856.0 L1044.9,854.2 L1045.8,852.4 L1046.7,850.6 L1047.7,848.8 L1048.6,846.9 L1049.6,845.1 L1050.6,843.4 L1051.6,841.6 L1052.7,839.8 L1053.8,838.1 L1054.9,836.4 L1056.1,834.8 L1057.3,833.2 L1058.6,831.7 L1059.9,830.2 L1061.3,828.8 L1062.8,827.5 L1064.3,826.2 L1065.9,825.1 L1067.5,824.0 L1069.2,823.0 L1071.0,822.1 L1072.9,821.4 L1074.8,820.7 L1076.8,820.2 L1078.7,819.9 L1080.7,819.7 L1082.6,819.7 L1084.6,819.9 L1086.5,820.4 L1088.3,821.0 L1090.0,821.8 L1091.7,822.8 L1093.4,824.0 L1095.0,825.3 L1096.5,826.7 L1097.9,828.2 L1099.4,829.7 L1100.7,831.3 L1102.0,832.9 L1103.3,834.5 L1104.5,836.1 L1105.6,837.7 L1106.7,839.4 L1107.8,841.0 L1108.9,842.7 L1109.9,844.4 L1110.9,846.1 L1111.9,847.8 L1112.8,849.6 L1113.7,851.3 L1114.7,853.1 L1115.6,854.8 L1116.4,856.6 L1117.3,858.4 L1118.2,860.2 L1119.0,862.0 L1119.8,863.9 L1120.6,865.7 L1121.4,867.5 L1122.2,869.4 L1123.0,871.2 L1123.8,873.1 L1124.5,874.9 L1125.3,876.8 L1126.0,878.7 L1126.8,880.5 L1127.5,882.4 L1128.2,884.3 L1128.9,886.2 L1129.7,888.1 L1130.4,889.9 L1131.1,891.8 L1131.8,893.7 L1132.5,895.6 L1133.2,897.4 L1133.9,899.3 L1134.6,901.2 L1135.4,903.0 L1136.1,904.9 L1136.8,906.7 L1137.5,908.6 L1138.3,910.4 L1139.0,912.3 L1139.8,914.1 L1140.6,915.9 L1141.3,917.8 L1142.1,919.6 L1142.9,921.4 L1143.8,923.2 L1144.6,925.0 L1145.5,926.7 L1146.4,928.5 L1147.3,930.3 L1148.2,932.0 L1149.2,933.8 L1150.2,935.5 L1151.2,937.2 L1152.2,938.9 L1153.3,940.6 L1154.4,942.3 L1155.5,944.0 L1156.7,945.6 L1157.9,947.3 L1159.1,948.9 L1160.3,950.5 L1161.6,952.1 L1162.9,953.6 L1164.2,955.2 L1165.6,956.7 L1167.0,958.1 L1168.4,959.6 L1169.9,961.0 L1171.3,962.3 L1172.8,963.7 L1174.4,965.0 L1175.9,966.2 L1177.5,967.4 L1179.1,968.6 L1180.7,969.7 L1182.4,970.8 L1184.1,971.8 L1185.8,972.8 L1187.5,973.8 L1189.2,974.7 L1191.0,975.6 L1192.8,976.5 L1194.6,977.3 L1196.4,978.1 L1198.2,978.9 L1200.0,979.6 L1201.9,980.3 L1203.8,981.0 L1205.7,981.7 L1207.5,982.3 L1209.5,982.9 L1211.4,983.4 L1213.3,984.0 L1215.2,984.5 L1217.2,985.0 L1219.1,985.5 L1221.1,986.0 L1223.1,986.4 L1225.0,986.9 L1227.0,987.3 L1229.0,987.7 L1231.0,988.1 L1232.9,988.4 L1234.9,988.8 L1236.9,989.2 L1238.9,989.5 L1240.9,989.8 L1242.8,990.1 L1244.8,990.5 L1246.8,990.8 L1248.7,991.1 L1250.7,991.4 L1252.7,991.7 L1254.6,992.0" fill="none" stroke="#000000" stroke-width="6.7" stroke-linejoin="round" stroke-linecap="round"/>
<path d="M159.5,49.0 L161.5,49.0 L163.5,49.1 L165.5,49.1 L167.5,49.2 L169.5,49.2 L171.5,49.3 L173.5,49.3 L175.5,49.3 L177.5,49.4 L179.5,49.4 L181.5,49.5 L183.5,49.5 L185.5,49.5 L187.5,49.6 L189.5,49.6 L191.5,49.6 L193.5,49.7 L195.5,49.7 L197.5,49.7 L199.5,49.8 L201.5,49.8 L203.5,49.8 L205.5,49.9 L207.5,49.9 L209.5,49.9 L211.5,50.0 L213.5,50.0 L215.5,50.0 L217.5,50.1 L219.5,50.1 L221.5,50.1 L223.5,50.2 L225.5,50.2 L227.5,50.2 L229.5,50.2 L231.5,50.3 L233.5,50.3 L235.5,50.3 L237.5,50.4 L239.5,50.4 L241.5,50.4 L243.5,50.4 L245.5,50.5 L247.5,50.5 L249.5,50.5 L251.5,50.5 L253.5,50.6 L255.5,50.6 L257.5,50.6 L259.5,50.6 L261.5,50.7 L263.5,50.7 L265.5,50.7 L267.5,50.7 L269.5,50.8 L271.5,50.8 L273.5,50.8 L275.5,50.8 L277.5,50.9 L279.5,50.9 L281.5,50.9 L283.5,50.9 L285.5,50.9 L287.5,51.0 L289.5,51.0 L291.5,51.0 L293.5,51.0 L295.5,51.1 L297.5,51.1 L299.5,51.1 L301.5,51.1 L303.5,51.2 L305.5,51.2 L307.5,51.2 L309.5,51.2 L311.5,51.2 L313.5,51.3 L315.5,51.3 L317.5,51.3 L319.5,51.3 L321.5,51.4 L323.5,51.4 L325.5,51.4 L327.5,51.4 L329.5,51.5 L331.5,51.5 L333.5,51.5 L335.5,51.5 L337.5,51.6 L339.5,51.6 L341.5,51.6 L343.5,51.7 L345.5,51.7 L347.5,51.7 L349.5,51.7 L351.5,51.8 L353.5,51.8 L355.5,51.8 L357.5,51.8 L359.5,51.9 L361.5,51.9 L363.5,51.9 L365.5,52.0 L367.5,52.0 L369.5,52.0 L371.5,52.1 L373.5,52.1 L375.5,52.1 L377.5,52.2 L379.5,52.2 L381.5,52.2 L383.5,52.3 L385.5,52.3 L387.5,52.3 L389.5,52.4 L391.5,52.4 L393.5,52.4 L395.5,52.5 L397.5,52.5 L399.5,52.6 L401.5,52.6 L403.5,52.6 L405.5,52.7 L407.5,52.7 L409.5,52.8 L411.5,52.8 L413.5,52.9 L415.5,52.9 L417.5,52.9 L419.5,53.0 L421.5,53.0 L423.5,53.1 L425.5,53.1 L427.5,53.2 L429.5,53.2 L431.5,53.3 L433.5,53.4 L435.5,53.4 L437.5,53.5 L439.5,53.5 L441.5,53.6 L443.5,53.7 L445.5,53.7 L447.5,53.8 L449.5,53.9 L451.5,53.9 L453.5,54.0 L455.5,54.1 L457.5,54.1 L459.5,54.2 L461.5,54.3 L463.5,54.4 L465.5,54.4 L467.5,54.5 L469.5,54.6 L471.5,54.7 L473.5,54.8 L475.5,54.9 L477.5,55.0 L479.5,55.1 L481.5,55.2 L483.5,55.2 L485.5,55.3 L487.5,55.4 L489.5,55.6 L491.5,55.7 L493.5,55.8 L495.5,55.9 L497.5,56.0 L499.5,56.1 L501.5,56.2 L503.5,56.3 L505.5,56.5 L507.5,56.6 L509.5,56.7 L511.4,56.9 L513.4,57.0 L515.4,57.1 L517.4,57.3 L519.4,57.5 L521.4,57.6 L523.4,57.8 L525.4,58.0 L527.4,58.2 L529.4,58.4 L531.4,58.6 L533.4,58.8 L535.4,59.0 L537.3,59.3 L539.3,59.5 L541.3,59.8 L543.3,60.1 L545.3,60.4 L547.2,60.7 L549.2,61.0 L551.2,61.3 L553.1,61.7 L555.1,62.0 L557.1,62.4 L559.0,62.8 L561.0,63.2 L562.9,63.6 L564.9,64.1 L566.8,64.6 L568.8,65.0 L570.7,65.5 L572.7,66.1 L574.6,66.6 L576.5,67.1 L578.5,67.6 L580.4,68.2 L582.3,68.7 L584.2,69.3 L586.2,69.8 L588.1,70.4 L590.0,70.9 L592.0,71.5 L593.9,72.0 L595.8,72.5 L597.8,73.0 L599.7,73.5 L601.6,74.0 L603.6,74.5 L605.5,75.0 L607.4,75.4 L609.4,75.8 L611.3,76.2 L613.3,76.6 L615.2,76.9 L617.2,77.2 L619.2,77.4 L621.1,77.5 L623.1,77.5 L625.1,77.4 L627.1,77.2 L629.1,76.9 L631.1,76.5 L633.0,76.0 L634.9,75.4 L636.8,74.7 L638.6,73.9 L640.5,73.0 L642.2,72.1 L644.0,71.1 L645.7,70.0 L647.5,68.9 L649.2,67.8 L650.9,66.7 L652.6,65.6 L654.3,64.5 L656.0,63.4 L657.8,62.4 L659.5,61.5 L661.3,60.5 L663.1,59.7 L665.0,59.0 L666.8,58.3 L668.7,57.6 L670.6,57.1 L672.5,56.5 L674.4,56.0 L676.4,55.6 L678.3,55.1 L680.3,54.7 L682.2,54.3 L684.2,54.0 L686.1,53.6 L688.1,53.3 L690.0,53.0 L692.0,52.8 L694.0,52.5 L695.9,52.3 L697.9,52.1 L699.9,51.9 L701.8,51.7 L703.8,51.5 L705.8,51.4 L707.8,51.3 L709.8,51.2 L711.8,51.1 L713.8,51.0 L715.8,51.0 L717.8,50.9 L719.8,50.9 L721.8,50.9 L723.8,50.8 L725.8,50.8 L727.8,50.9 L729.8,50.9 L731.8,50.9 L733.8,51.0 L735.8,51.0 L737.8,51.1 L739.8,51.1 L741.8,51.2 L743.9,51.3 L745.9,51.4 L747.9,51.5 L749.9,51.6 L751.9,51.7 L753.9,51.8 L755.9,51.9 L757.9,52.0 L760.0,52.1 L762.0,52.2 L764.0,52.3 L766.0,52.5 L768.0,52.6 L770.0,52.7 L772.0,52.8 L774.0,52.9 L776.0,53.0 L778.0,53.1 L780.0,53.3 L782.0,53.4 L784.0,53.5 L786.0,53.6 L788.0,53.7 L790.0,53.8 L792.0,54.0 L794.0,54.1 L796.0,54.2 L798.0,54.3 L800.0,54.5 L802.0,54.6 L803.9,54.7 L805.9,54.9 L807.9,55.0 L809.9,55.2 L811.9,55.3 L813.9,55.5 L815.9,55.7 L817.8,55.8 L819.8,56.0 L821.8,56.2 L823.8,56.4 L825.8,56.6 L827.7,56.8 L829.7,57.0 L831.7,57.2 L833.7,57.4 L835.6,57.7 L837.6,57.9 L839.6,58.2 L841.6,58.4 L843.5,58.7 L845.5,59.0 L847.5,59.3 L849.5,59.6 L851.4,59.9 L853.4,60.2 L855.4,60.5 L857.3,60.9 L859.3,61.2 L861.3,61.6 L863.2,62.0 L865.2,62.4 L867.2,62.8 L869.1,63.2 L871.1,63.6 L873.1,64.0 L875.0,64.5 L877.0,65.0 L878.9,65.5 L880.9,66.0 L882.9,66.5 L884.8,67.0 L886.8,67.6 L888.7,68.1 L890.6,68.7 L892.5,69.3 L894.5,70.0 L896.4,70.6 L898.3,71.3 L900.2,72.0 L902.0,72.7 L903.9,73.5 L905.7,74.2 L907.6,75.0 L909.4,75.9 L911.2,76.7 L913.0,77.6 L914.8,78.5 L916.5,79.4 L918.3,80.4 L920.0,81.4 L921.7,82.4 L923.4,83.5 L925.0,84.6 L926.6,85.7 L928.3,86.9 L929.8,88.1 L931.4,89.3 L933.0,90.6 L934.5,91.8 L936.0,93.1 L937.5,94.5 L939.0,95.8 L940.5,97.2 L941.9,98.5 L943.4,99.9 L944.8,101.3 L946.3,102.7 L947.7,104.1 L949.1,105.5 L950.5,106.9 L952.0,108.3 L953.4,109.7 L954.8,111.1 L956.2,112.5 L957.7,113.9 L959.1,115.4 L960.5,116.8 L961.9,118.2 L963.3,119.6 L964.7,121.0 L966.2,122.4 L967.6,123.8 L969.0,125.2 L970.4,126.6 L971.9,128.0 L973.3,129.4 L974.8,130.8 L976.2,132.2 L977.6,133.5 L979.1,134.9 L980.6,136.3 L982.0,137.6 L983.5,139.0" fill="none" stroke="#0000ff" stroke-width="6.7" stroke-linejoin="round" stroke-linecap="round"/>
<path d="M159.5,286.0 L161.5,286.0 L163.5,286.1 L165.5,286.1 L167.5,286.1 L169.5,286.2 L171.5,286.2 L173.5,286.2 L175.5,286.3 L177.5,286.3 L179.5,286.3 L181.5,286.4 L183.5,286.4 L185.5,286.5 L187.5,286.5 L189.5,286.5 L191.5,286.6 L193.5,286.6 L195.5,286.7 L197.5,286.7 L199.5,286.7 L201.5,286.8 L203.5,286.8 L205.5,286.9 L207.5,286.9 L209.5,287.0 L211.5,287.0 L213.5,287.0 L215.5,287.1 L217.5,287.1 L219.5,287.2 L221.5,287.2 L223.5,287.3 L225.5,287.3 L227.5,287.4 L229.5,287.4 L231.5,287.5 L233.5,287.5 L235.5,287.6 L237.5,287.6 L239.5,287.6 L241.5,287.7 L243.5,287.7 L245.5,287.8 L247.5,287.8 L249.5,287.9 L251.5,287.9 L253.5,288.0 L255.5,288.0 L257.5,288.1 L259.5,288.1 L261.5,288.1 L263.5,288.2 L265.6,288.2 L267.6,288.3 L269.6,288.3 L271.6,288.4 L273.6,288.4 L275.6,288.4 L277.6,288.5 L279.6,288.5 L281.6,288.6 L283.6,288.6 L285.6,288.6 L287.6,288.7 L289.6,288.7 L291.6,288.8 L293.6,288.8 L295.6,288.8 L297.6,288.9 L299.6,288.9 L301.6,288.9 L303.6,289.0 L305.6,289.0 L307.6,289.0 L309.6,289.1 L311.6,289.1 L313.6,289.1 L315.6,289.2 L317.6,289.2 L319.6,289.2 L321.6,289.2 L323.6,289.3 L325.6,289.3 L327.6,289.3 L329.6,289.3 L331.6,289.4 L333.6,289.4 L335.6,289.4 L337.6,289.4 L339.6,289.4 L341.6,289.5 L343.6,289.5 L345.6,289.5 L347.6,289.5 L349.6,289.5 L351.6,289.5 L353.6,289.5 L355.6,289.5 L357.6,289.5 L359.6,289.5 L361.6,289.5 L363.6,289.5 L365.6,289.5 L367.6,289.5 L369.6,289.5 L371.6,289.5 L373.6,289.5 L375.6,289.5 L377.6,289.5 L379.6,289.5 L381.5,289.5 L383.5,289.5 L385.5,289.5 L387.5,289.5 L389.5,289.5 L391.5,289.5 L393.5,289.5 L395.5,289.5 L397.5,289.5 L399.5,289.5 L401.5,289.5 L403.5,289.6 L405.5,289.6 L407.5,289.6 L409.5,289.6 L411.5,289.6 L413.5,289.6 L415.5,289.6 L417.5,289.7 L419.5,289.7 L421.5,289.7 L423.5,289.7 L425.5,289.8 L427.5,289.8 L429.5,289.9 L431.5,289.9 L433.5,290.0 L435.5,290.0 L437.5,290.1 L439.5,290.1 L441.5,290.2 L443.5,290.3 L445.5,290.3 L447.5,290.4 L449.5,290.5 L451.5,290.6 L453.5,290.7 L455.5,290.8 L457.5,290.9 L459.5,291.0 L461.5,291.1 L463.6,291.2 L465.6,291.4 L467.6,291.5 L469.6,291.6 L471.6,291.8 L473.6,292.0 L475.6,292.1 L477.6,292.3 L479.6,292.5 L481.6,292.7 L483.6,292.9 L485.6,293.1 L487.6,293.4 L489.6,293.6 L491.6,293.9 L493.6,294.2 L495.6,294.5 L497.6,294.8 L499.5,295.1 L501.5,295.5 L503.5,295.8 L505.4,296.2 L507.4,296.6 L509.3,297.0 L511.3,297.4 L513.2,297.9 L515.1,298.3 L517.1,298.8 L519.0,299.3 L520.9,299.8 L522.8,300.3 L524.7,300.8 L526.6,301.4 L528.5,302.0 L530.4,302.6 L532.3,303.1 L534.2,303.8 L536.1,304.4 L537.9,305.0 L539.8,305.7 L541.7,306.4 L543.5,307.1 L545.4,307.8 L547.3,308.5 L549.1,309.2 L551.0,310.0 L552.8,310.7 L554.6,311.5 L556.5,312.3 L558.3,313.1 L560.1,314.0 L562.0,314.8 L563.8,315.6 L565.6,316.5 L567.4,317.4 L569.2,318.3 L571.0,319.2 L572.8,320.1 L574.6,321.1 L576.4,322.0 L578.2,323.0 L580.0,323.9 L581.8,324.9 L583.6,325.9 L585.4,326.9 L587.2,327.9 L589.0,328.9 L590.7,329.9 L592.5,330.8 L594.3,331.7 L596.1,332.6 L597.9,333.4 L599.8,334.2 L601.6,334.9 L603.4,335.5 L605.3,336.1 L607.1,336.6 L609.0,337.0 L610.9,337.3 L612.8,337.5 L614.7,337.7 L616.6,337.6 L618.6,337.5 L620.6,337.3 L622.5,337.0 L624.5,336.6 L626.5,336.2 L628.4,335.6 L630.4,335.0 L632.4,334.3 L634.3,333.6 L636.2,332.8 L638.1,332.0 L640.0,331.1 L641.8,330.2 L643.6,329.3 L645.4,328.3 L647.1,327.3 L648.9,326.3 L650.6,325.3 L652.3,324.2 L653.9,323.1 L655.6,322.1 L657.2,321.0 L658.9,319.8 L660.5,318.7 L662.1,317.6 L663.7,316.4 L665.3,315.3 L666.9,314.1 L668.5,312.9 L670.1,311.8 L671.7,310.6 L673.3,309.4 L674.9,308.3 L676.5,307.1 L678.2,306.0 L679.8,304.9 L681.5,303.8 L683.2,302.8 L684.9,301.8 L686.7,300.8 L688.4,299.9 L690.2,299.0 L692.0,298.2 L693.9,297.4 L695.8,296.7 L697.7,296.0 L699.6,295.3 L701.5,294.7 L703.5,294.1 L705.4,293.6 L707.4,293.1 L709.4,292.6 L711.3,292.1 L713.3,291.7 L715.3,291.2 L717.3,290.8 L719.2,290.4 L721.2,290.1 L723.2,289.7 L725.2,289.4 L727.1,289.1 L729.1,288.8 L731.1,288.6 L733.1,288.3 L735.1,288.1 L737.1,287.9 L739.0,287.7 L741.0,287.5 L743.0,287.4 L745.0,287.2 L747.0,287.1 L749.0,287.0 L750.9,286.9 L752.9,286.9 L754.9,286.8 L756.9,286.8 L758.9,286.8 L760.9,286.8 L762.9,286.8 L764.8,286.8 L766.8,286.8 L768.8,286.9 L770.8,287.0 L772.8,287.1 L774.8,287.2 L776.8,287.3 L778.8,287.4 L780.7,287.5 L782.7,287.7 L784.7,287.8 L786.7,288.0 L788.7,288.2 L790.7,288.4 L792.7,288.6 L794.7,288.8 L796.6,289.0 L798.6,289.3 L800.6,289.5 L802.6,289.8 L804.6,290.0 L806.6,290.3 L808.6,290.6 L810.5,290.9 L812.5,291.2 L814.5,291.5 L816.5,291.8 L818.5,292.2 L820.4,292.5 L822.4,292.8 L824.4,293.2 L826.4,293.6 L828.4,293.9 L830.3,294.3 L832.3,294.7 L834.3,295.0 L836.3,295.4 L838.2,295.8 L840.2,296.2 L842.2,296.6 L844.2,297.0 L846.1,297.4 L848.1,297.8 L850.1,298.2 L852.0,298.6 L854.0,299.1 L856.0,299.5 L857.9,299.9 L859.9,300.3 L861.8,300.8 L863.8,301.2 L865.8,301.6 L867.7,302.1 L869.7,302.5 L871.6,302.9 L873.6,303.4 L875.5,303.8 L877.5,304.2 L879.4,304.6 L881.4,305.1 L883.3,305.5 L885.3,305.9 L887.2,306.4 L889.2,306.8 L891.1,307.2 L893.1,307.7 L895.0,308.1 L896.9,308.5 L898.9,309.0 L900.8,309.4 L902.7,309.9 L904.7,310.3 L906.6,310.8 L908.5,311.2 L910.5,311.7 L912.4,312.2 L914.3,312.7 L916.2,313.1 L918.2,313.6 L920.1,314.1 L922.0,314.6 L923.9,315.2 L925.9,315.7 L927.8,316.2 L929.7,316.8 L931.6,317.3 L933.5,317.9 L935.5,318.5 L937.4,319.1 L939.3,319.6 L941.2,320.2 L943.1,320.7 L945.1,321.3 L947.0,321.8 L949.0,322.3 L950.9,322.8 L952.9,323.2 L954.8,323.6 L956.8,324.0 L958.7,324.3 L960.7,324.6 L962.7,324.8 L964.7,325.0 L966.7,325.1 L968.7,325.2 L970.8,325.2 L972.8,325.2 L974.9,325.1 L976.9,325.0 L979.0,324.9 L981.0,324.8 L983.0,324.7 L985.0,324.7 L986.9,324.7 L988.8,324.8 L990.7,325.1 L992.6,325.4 L994.3,325.9 L996.1,326.6 L997.7,327.4 L999.3,328.4 L1000.8,329.5 L1002.3,330.8 L1003.7,332.2 L1005.0,333.8 L1006.3,335.4 L1007.4,337.1 L1008.5,338.9 L1009.6,340.7 L1010.5,342.6 L1011.4,344.5 L1012.2,346.5 L1012.9,348.4 L1013.5,350.3 L1014.0,352.2 L1014.5,354.0" fill="none" stroke="#0000ff" stroke-width="6.7" stroke-linejoin="round" stroke-linecap="round"/>
<path d="M159.5,583.7 L161.5,583.7 L163.5,583.7 L165.5,583.7 L167.5,583.7 L169.5,583.7 L171.5,583.7 L173.5,583.7 L175.5,583.7 L177.5,583.7 L179.5,583.7 L181.5,583.7 L183.5,583.7 L185.5,583.7 L187.5,583.7 L189.5,583.7 L191.5,583.7 L193.5,583.7 L195.5,583.6 L197.5,583.6 L199.5,583.6 L201.5,583.6 L203.5,583.6 L205.5,583.6 L207.5,583.5 L209.5,583.5 L211.5,583.5 L213.5,583.5 L215.5,583.4 L217.5,583.4 L219.5,583.4 L221.5,583.4 L223.5,583.3 L225.5,583.3 L227.5,583.3 L229.5,583.3 L231.5,583.2 L233.6,583.2 L235.6,583.2 L237.6,583.1 L239.6,583.1 L241.6,583.1 L243.6,583.1 L245.6,583.0 L247.6,583.0 L249.6,583.0 L251.6,583.0 L253.6,582.9 L255.6,582.9 L257.6,582.9 L259.6,582.9 L261.6,582.8 L263.6,582.8 L265.6,582.8 L267.6,582.8 L269.6,582.7 L271.6,582.7 L273.6,582.7 L275.6,582.7 L277.6,582.7 L279.6,582.7 L281.6,582.6 L283.7,582.6 L285.7,582.6 L287.7,582.6 L289.7,582.6 L291.7,582.6 L293.7,582.6 L295.7,582.6 L297.7,582.6 L299.7,582.6 L301.7,582.6 L303.7,582.6 L305.7,582.6 L307.7,582.6 L309.7,582.6 L311.7,582.6 L313.7,582.6 L315.7,582.7 L317.7,582.7 L319.7,582.7 L321.7,582.7 L323.7,582.7 L325.7,582.8 L327.7,582.8 L329.7,582.8 L331.7,582.9 L333.7,582.9 L335.7,582.9 L337.7,583.0 L339.7,583.0 L341.7,583.1 L343.7,583.1 L345.7,583.2 L347.7,583.2 L349.7,583.3 L351.7,583.4 L353.7,583.4 L355.7,583.5 L357.7,583.6 L359.7,583.6 L361.7,583.7 L363.7,583.8 L365.7,583.9 L367.7,584.0 L369.7,584.1 L371.7,584.2 L373.7,584.3 L375.7,584.4 L377.7,584.5 L379.7,584.6 L381.7,584.7 L383.7,584.8 L385.7,585.0 L387.7,585.1 L389.7,585.2 L391.7,585.4 L393.7,585.5 L395.7,585.6 L397.7,585.8 L399.7,586.0 L401.7,586.1 L403.7,586.3 L405.6,586.4 L407.6,586.6 L409.6,586.8 L411.6,587.0 L413.6,587.2 L415.6,587.4 L417.6,587.6 L419.6,587.8 L421.6,588.0 L423.6,588.2 L425.6,588.4 L427.6,588.6 L429.5,588.9 L431.5,589.1 L433.5,589.3 L435.5,589.6 L437.5,589.8 L439.5,590.1 L441.5,590.3 L443.5,590.6 L445.4,590.9 L447.4,591.2 L449.4,591.5 L451.4,591.7 L453.4,592.1 L455.4,592.4 L457.3,592.7 L459.3,593.0 L461.3,593.3 L463.3,593.7 L465.2,594.0 L467.2,594.4 L469.2,594.8 L471.1,595.2 L473.1,595.6 L475.1,596.0 L477.0,596.4 L479.0,596.8 L480.9,597.3 L482.9,597.7 L484.8,598.2 L486.8,598.7 L488.7,599.2 L490.6,599.7 L492.6,600.2 L494.5,600.8 L496.4,601.3 L498.3,601.9 L500.2,602.5 L502.2,603.1 L504.1,603.7 L506.0,604.4 L507.8,605.0 L509.7,605.7 L511.6,606.4 L513.5,607.1 L515.4,607.8 L517.2,608.6 L519.1,609.3 L520.9,610.1 L522.7,610.9 L524.5,611.8 L526.4,612.6 L528.2,613.5 L529.9,614.4 L531.7,615.3 L533.5,616.2 L535.2,617.2 L537.0,618.2 L538.7,619.2 L540.4,620.2 L542.1,621.3 L543.7,622.4 L545.4,623.5 L547.0,624.6 L548.6,625.8 L550.2,627.0 L551.8,628.2 L553.4,629.4 L554.9,630.7 L556.4,632.0 L557.9,633.3 L559.4,634.7 L560.8,636.1 L562.3,637.5 L563.7,638.9 L565.1,640.4 L566.5,641.8 L567.8,643.3 L569.2,644.8 L570.6,646.3 L571.9,647.8 L573.3,649.3 L574.6,650.8 L576.0,652.3 L577.4,653.8 L578.7,655.3 L580.2,656.7 L581.6,658.1 L583.1,659.5 L584.6,660.9 L586.1,662.2 L587.7,663.4 L589.3,664.6 L591.0,665.7 L592.7,666.8 L594.4,667.8 L596.2,668.7 L598.1,669.5 L599.9,670.1 L601.8,670.7 L603.7,671.1 L605.6,671.3 L607.5,671.4 L609.5,671.2 L611.4,670.9 L613.2,670.4 L615.1,669.8 L617.0,669.0 L618.8,668.1 L620.6,667.1 L622.4,666.0 L624.1,664.9 L625.9,663.7 L627.5,662.6 L629.2,661.4 L630.8,660.2 L632.4,658.9 L633.9,657.7 L635.5,656.4 L637.0,655.2 L638.5,653.9 L639.9,652.5 L641.4,651.2 L642.8,649.9 L644.2,648.5 L645.6,647.1 L646.9,645.7 L648.3,644.3 L649.7,642.9 L651.0,641.5 L652.3,640.1 L653.7,638.6 L655.0,637.1 L656.3,635.6 L657.6,634.2 L659.0,632.7 L660.3,631.1 L661.6,629.6 L663.0,628.1 L664.3,626.6 L665.6,625.0 L667.0,623.5 L668.4,622.0 L669.7,620.4 L671.1,618.9 L672.5,617.4 L673.9,615.9 L675.3,614.4 L676.7,612.9 L678.1,611.4 L679.5,610.0 L681.0,608.5 L682.5,607.1 L683.9,605.7 L685.4,604.3 L686.9,603.0 L688.5,601.7 L690.0,600.4 L691.6,599.2 L693.2,598.0 L694.8,596.8 L696.4,595.7 L698.0,594.6 L699.7,593.6 L701.4,592.6 L703.1,591.6 L704.8,590.7 L706.6,589.9 L708.3,589.1 L710.1,588.3 L712.0,587.6 L713.8,587.0 L715.7,586.5 L717.6,585.9 L719.5,585.5 L721.4,585.1 L723.4,584.7 L725.4,584.4 L727.3,584.1 L729.3,583.9 L731.3,583.7 L733.3,583.5 L735.3,583.4 L737.3,583.4 L739.4,583.3 L741.4,583.3 L743.4,583.4 L745.4,583.4 L747.4,583.5 L749.5,583.7 L751.5,583.8 L753.5,584.0 L755.5,584.2 L757.5,584.5 L759.4,584.7 L761.4,585.0 L763.4,585.3 L765.4,585.7 L767.4,586.0 L769.3,586.4 L771.3,586.9 L773.3,587.3 L775.2,587.7 L777.2,588.2 L779.1,588.7 L781.0,589.2 L783.0,589.8 L784.9,590.3 L786.8,590.9 L788.7,591.5 L790.6,592.1 L792.5,592.7 L794.4,593.4 L796.3,594.0 L798.2,594.7 L800.1,595.4 L801.9,596.1 L803.8,596.8 L805.7,597.5 L807.5,598.3 L809.4,599.0 L811.2,599.8 L813.0,600.5 L814.9,601.3 L816.7,602.1 L818.5,602.9 L820.4,603.7 L822.2,604.6 L824.0,605.4 L825.8,606.2 L827.6,607.1 L829.4,607.9 L831.2,608.8 L833.0,609.7 L834.8,610.6 L836.6,611.5 L838.4,612.4 L840.2,613.3 L842.0,614.2 L843.8,615.1 L845.6,616.0 L847.4,616.9 L849.2,617.8 L851.0,618.7 L852.8,619.6 L854.6,620.5 L856.4,621.4 L858.2,622.3 L860.0,623.1 L861.8,624.0 L863.6,624.8 L865.5,625.6 L867.3,626.4 L869.1,627.2 L871.0,627.9 L872.8,628.6 L874.7,629.3 L876.6,630.0 L878.5,630.6 L880.4,631.2 L882.3,631.7 L884.2,632.3 L886.1,632.7 L888.1,633.2 L890.0,633.6 L892.0,633.9 L894.0,634.3 L896.0,634.6 L898.0,634.8 L900.0,635.1 L902.0,635.3 L904.0,635.6 L906.0,635.8 L908.0,636.1 L910.0,636.4 L912.0,636.8 L914.0,637.1 L915.9,637.5 L917.9,637.9 L919.9,638.2 L921.9,638.6 L923.8,638.9 L925.8,639.1 L927.8,639.4 L929.7,639.5 L931.7,639.6 L933.7,639.6 L935.7,639.6 L937.7,639.4 L939.7,639.3 L941.6,639.0 L943.6,638.7 L945.6,638.3 L947.5,637.9 L949.5,637.3 L951.4,636.8 L953.3,636.2 L955.2,635.5 L957.1,634.8 L958.9,634.0 L960.8,633.1 L962.6,632.3 L964.4,631.3 L966.1,630.3 L967.8,629.3 L969.5,628.3 L971.2,627.1 L972.8,626.0 L974.4,624.8 L976.0,623.6 L977.5,622.3 L979.0,621.0 L980.5,619.6 L981.9,618.2 L983.3,616.8 L984.6,615.4 L986.0,613.9 L987.3,612.4 L988.6,610.9 L990.0,609.4 L991.3,607.8 L992.7,606.3 L994.0,604.8 L995.4,603.2 L996.9,601.7 L998.4,600.2 L999.9,598.8 L1001.4,597.5 L1003.0,596.3 L1004.7,595.2 L1006.4,594.3 L1008.1,593.5 L1010.0,592.9 L1011.8,592.4 L1013.7,592.2 L1015.6,592.1 L1017.5,592.1 L1019.4,592.3 L1021.3,592.7 L1023.2,593.2 L1025.1,593.9 L1026.9,594.8 L1028.7,595.7 L1030.4,596.8 L1032.1,597.9 L1033.8,599.1 L1035.5,600.4 L1037.1,601.6 L1038.7,602.9 L1040.3,604.2 L1041.9,605.5 L1043.4,606.9 L1044.9,608.2 L1046.3,609.6 L1047.8,610.9 L1049.2,612.3 L1050.6,613.7 L1052.0,615.1 L1053.4,616.6 L1054.7,618.0 L1056.1,619.4 L1057.4,620.9 L1058.8,622.4 L1060.1,623.9" fill="none" stroke="#0000ff" stroke-width="6.7" stroke-linejoin="round" stroke-linecap="round"/>
<path d="M159.5,913.4 L161.5,913.4 L163.5,913.5 L165.5,913.5 L167.5,913.6 L169.5,913.6 L171.5,913.7 L173.5,913.7 L175.5,913.7 L177.5,913.8 L179.5,913.8 L181.5,913.8 L183.5,913.9 L185.5,913.9 L187.5,913.9 L189.5,914.0 L191.5,914.0 L193.5,914.0 L195.5,914.1 L197.5,914.1 L199.5,914.1 L201.5,914.2 L203.5,914.2 L205.5,914.2 L207.5,914.2 L209.5,914.3 L211.5,914.3 L213.5,914.3 L215.5,914.4 L217.5,914.4 L219.5,914.4 L221.5,914.5 L223.5,914.5 L225.5,914.5 L227.5,914.5 L229.5,914.6 L231.5,914.6 L233.5,914.6 L235.5,914.7 L237.5,914.7 L239.5,914.7 L241.5,914.8 L243.5,914.8 L245.5,914.8 L247.5,914.8 L249.5,914.9 L251.5,914.9 L253.5,915.0 L255.5,915.0 L257.5,915.0 L259.5,915.1 L261.5,915.1 L263.5,915.1 L265.6,915.2 L267.6,915.2 L269.6,915.3 L271.6,915.3 L273.6,915.4 L275.6,915.4 L277.6,915.5 L279.6,915.5 L281.6,915.6 L283.6,915.6 L285.6,915.7 L287.6,915.7 L289.6,915.8 L291.6,915.8 L293.6,915.9 L295.6,916.0 L297.6,916.0 L299.6,916.1 L301.6,916.2 L303.6,916.2 L305.6,916.3 L307.6,916.4 L309.6,916.5 L311.6,916.5 L313.6,916.6 L315.6,916.7 L317.6,916.8 L319.6,916.9 L321.6,917.0 L323.6,917.0 L325.6,917.1 L327.6,917.2 L329.6,917.3 L331.6,917.4 L333.6,917.5 L335.6,917.6 L337.6,917.8 L339.6,917.9 L341.6,918.0 L343.6,918.1 L345.6,918.2 L347.6,918.3 L349.6,918.5 L351.6,918.6 L353.6,918.7 L355.6,918.9 L357.6,919.0 L359.6,919.1 L361.6,919.3 L363.6,919.4 L365.5,919.6 L367.5,919.7 L369.5,919.9 L371.5,920.1 L373.5,920.2 L375.5,920.4 L377.5,920.6 L379.5,920.7 L381.5,920.9 L383.5,921.1 L385.5,921.3 L387.5,921.5 L389.5,921.7 L391.4,921.9 L393.4,922.1 L395.4,922.3 L397.4,922.5 L399.4,922.7 L401.4,922.9 L403.4,923.1 L405.4,923.3 L407.4,923.6 L409.3,923.8 L411.3,924.0 L413.3,924.3 L415.3,924.5 L417.3,924.8 L419.3,925.0 L421.2,925.3 L423.2,925.6 L425.2,925.8 L427.2,926.1 L429.2,926.4 L431.2,926.7 L433.1,927.0 L435.1,927.3 L437.1,927.6 L439.1,927.9 L441.1,928.2 L443.0,928.5 L445.0,928.8 L447.0,929.1 L449.0,929.4 L450.9,929.8 L452.9,930.1 L454.9,930.5 L456.9,930.8 L458.8,931.2 L460.8,931.5 L462.8,931.9 L464.7,932.3 L466.7,932.7 L468.7,933.1 L470.6,933.5 L472.6,933.9 L474.5,934.4 L476.5,934.8 L478.4,935.3 L480.4,935.8 L482.3,936.3 L484.2,936.8 L486.1,937.3 L488.1,937.9 L490.0,938.5 L491.9,939.0 L493.8,939.6 L495.7,940.3 L497.6,940.9 L499.4,941.6 L501.3,942.3 L503.2,943.0 L505.0,943.7 L506.9,944.5 L508.7,945.2 L510.6,946.0 L512.4,946.9 L514.2,947.7 L516.0,948.6 L517.8,949.5 L519.6,950.4 L521.3,951.4 L523.1,952.4 L524.8,953.3 L526.6,954.4 L528.3,955.4 L530.0,956.5 L531.7,957.5 L533.4,958.6 L535.1,959.8 L536.7,960.9 L538.4,962.1 L540.0,963.2 L541.6,964.4 L543.2,965.6 L544.8,966.9 L546.3,968.1 L547.9,969.4 L549.4,970.7 L550.9,972.0 L552.4,973.3 L553.9,974.6 L555.3,975.9 L556.8,977.3 L558.3,978.6 L559.7,979.9 L561.2,981.3 L562.7,982.6 L564.2,983.9 L565.7,985.2 L567.2,986.5 L568.7,987.8 L570.3,989.1 L571.9,990.3 L573.5,991.5 L575.1,992.7 L576.8,993.9 L578.5,995.0 L580.3,996.1 L582.0,997.1 L583.8,998.0 L585.7,998.7 L587.5,999.4 L589.4,1000.0 L591.4,1000.4 L593.3,1000.6 L595.3,1000.7 L597.2,1000.7 L599.2,1000.6 L601.2,1000.4 L603.1,1000.0 L605.1,999.6 L607.0,999.1 L608.9,998.5 L610.8,997.8 L612.6,997.1 L614.4,996.3 L616.2,995.5 L618.0,994.5 L619.7,993.6 L621.5,992.6 L623.2,991.5 L624.9,990.4 L626.6,989.3 L628.2,988.1 L629.8,986.9 L631.5,985.7 L633.1,984.4 L634.6,983.2 L636.2,981.9 L637.8,980.6 L639.3,979.4 L640.8,978.1 L642.3,976.8 L643.8,975.5 L645.3,974.1 L646.8,972.8 L648.3,971.5 L649.8,970.2 L651.3,968.9 L652.7,967.5 L654.2,966.2 L655.7,964.9 L657.2,963.6 L658.6,962.2 L660.1,960.9 L661.6,959.6 L663.1,958.3 L664.6,957.0 L666.1,955.7 L667.6,954.4 L669.1,953.1 L670.7,951.8 L672.2,950.5 L673.8,949.2 L675.4,948.0 L677.0,946.7 L678.6,945.5 L680.2,944.3 L681.9,943.1 L683.5,941.9 L685.2,940.7 L686.9,939.6 L688.6,938.5 L690.3,937.4 L692.0,936.4 L693.7,935.4 L695.5,934.4 L697.3,933.5 L699.0,932.6 L700.8,931.7 L702.6,930.9 L704.4,930.1 L706.3,929.4 L708.1,928.7 L710.0,928.0 L711.8,927.5 L713.7,926.9 L715.6,926.4 L717.5,926.0 L719.4,925.6 L721.4,925.3 L723.3,925.0 L725.3,924.8 L727.2,924.6 L729.2,924.5 L731.2,924.4 L733.2,924.4 L735.1,924.4 L737.1,924.5 L739.1,924.6 L741.1,924.7 L743.1,924.9 L745.1,925.1 L747.2,925.4 L749.2,925.6 L751.2,926.0 L753.2,926.3 L755.2,926.7 L757.2,927.1 L759.2,927.5 L761.2,928.0 L763.1,928.5 L765.1,929.0 L767.1,929.5 L769.1,930.1 L771.0,930.7 L773.0,931.3 L774.9,931.9 L776.8,932.5 L778.7,933.2 L780.6,933.8 L782.5,934.5 L784.4,935.2 L786.3,935.9 L788.1,936.6 L790.0,937.3 L791.8,938.1 L793.7,938.8 L795.5,939.6 L797.3,940.4 L799.2,941.1 L801.0,941.9 L802.8,942.7 L804.6,943.6 L806.4,944.4 L808.2,945.2 L810.0,946.0 L811.8,946.9 L813.5,947.7 L815.3,948.6 L817.1,949.4 L818.9,950.3 L820.7,951.1 L822.5,952.0 L824.2,952.9 L826.0,953.7 L827.8,954.6 L829.6,955.5 L831.4,956.3 L833.2,957.2 L834.9,958.1 L836.7,958.9 L838.5,959.8 L840.3,960.7 L842.2,961.5 L844.0,962.4 L845.8,963.3 L847.6,964.1 L849.4,965.0 L851.3,965.8 L853.1,966.6 L855.0,967.5 L856.8,968.3 L858.7,969.1 L860.6,969.8 L862.4,970.6 L864.3,971.2 L866.2,971.9 L868.1,972.5 L870.0,973.1 L872.0,973.6 L873.9,974.1 L875.8,974.5 L877.8,974.8 L879.8,975.1 L881.7,975.2 L883.7,975.4 L885.7,975.4 L887.7,975.5 L889.7,975.5 L891.7,975.4 L893.7,975.4 L895.8,975.3 L897.8,975.3 L899.8,975.2 L901.8,975.2 L903.9,975.2 L905.9,975.2 L907.9,975.2 L910.0,975.2 L912.0,975.2 L914.0,975.2 L916.0,975.2 L918.1,975.2 L920.1,975.2 L922.1,975.2 L924.1,975.1 L926.1,975.0 L928.1,974.9 L930.1,974.8 L932.0,974.6 L934.0,974.4 L935.9,974.1 L937.9,973.8 L939.8,973.5 L941.7,973.1 L943.6,972.6 L945.5,972.0 L947.4,971.4 L949.2,970.8 L951.1,970.0 L952.9,969.3 L954.7,968.4 L956.5,967.6 L958.3,966.6 L960.0,965.6 L961.7,964.6 L963.5,963.5 L965.1,962.4 L966.8,961.3 L968.5,960.1 L970.1,958.9 L971.7,957.6 L973.3,956.3 L974.8,955.0 L976.4,953.7 L977.9,952.3 L979.4,950.9 L980.8,949.5 L982.3,948.1 L983.7,946.6 L985.1,945.1 L986.4,943.7 L987.8,942.2 L989.1,940.7 L990.3,939.2 L991.6,937.7 L992.9,936.2 L994.1,934.7 L995.3,933.2 L996.6,931.6 L997.8,930.1 L999.1,928.6 L1000.4,927.1 L1001.7,925.6 L1003.0,924.2 L1004.4,922.7 L1005.8,921.2 L1007.3,919.8 L1008.8,918.4 L1010.3,917.1 L1011.9,915.9 L1013.6,914.9 L1015.4,914.2 L1017.2,913.6 L1019.2,913.3 L1021.1,913.2 L1023.1,913.2 L1025.2,913.2 L1027.2,913.2 L1029.2,913.2 L1031.2,913.3 L1033.2,913.3 L1035.3,913.3 L1037.3,913.3 L1039.3,913.3 L1041.3,913.3 L1043.3,913.3 L1045.4,913.3 L1047.4,913.3 L1049.4,913.3 L1051.4,913.3 L1053.4,913.3 L1055.5,913.3 L1057.5,913.3 L1059.5,913.3 L1061.5,913.2 L1063.5,913.2 L1065.5,913.2 L1067.5,913.2 L1069.5,913.2 L1071.6,913.2 L1073.6,913.2 L1075.6,913.1 L1077.6,913.1 L1079.6,913.1 L1081.6,913.1 L1083.6,913.1 L1085.6,913.1 L1087.6,913.1 L1089.6,913.1 L1091.6,913.1 L1093.6,913.0 L1095.6,913.0 L1097.6,913.0 L1099.6,913.1 L1101.5,913.1 L1103.5,913.1 L1105.5,913.1 L1107.5,913.1 L1109.5,913.1 L1111.5,913.2 L1113.5,913.2 L1115.4,913.2 L1117.4,913.3 L1119.4,913.3 L1121.4,913.4 L1123.4,913.5 L1125.3,913.5 L1127.3,913.6 L1129.3,913.7 L1131.3,913.8 L1133.3,914.0 L1135.2,914.1 L1137.2,914.3 L1139.2,914.4 L1141.2,914.6 L1143.2,914.8 L1145.2,915.0 L1147.2,915.2 L1149.2,915.5 L1151.1,915.7 L1153.1,916.0 L1155.1,916.3 L1157.1,916.6 L1159.1,916.9 L1161.1,917.3 L1163.1,917.6 L1165.1,918.0 L1167.1,918.4 L1169.1,918.9 L1171.0,919.3 L1173.0,919.8 L1175.0,920.3 L1176.9,920.8 L1178.9,921.3 L1180.8,921.9 L1182.8,922.5 L1184.7,923.1 L1186.6,923.7 L1188.5,924.4 L1190.4,925.1 L1192.3,925.8 L1194.1,926.6 L1196.0,927.3 L1197.8,928.1 L1199.6,929.0 L1201.4,929.8 L1203.2,930.7 L1204.9,931.6 L1206.7,932.5 L1208.4,933.5 L1210.1,934.5 L1211.8,935.6 L1213.5,936.6 L1215.1,937.7 L1216.7,938.9 L1218.3,940.0 L1219.9,941.2 L1221.4,942.4 L1222.9,943.7 L1224.4,945.0 L1225.9,946.3 L1227.3,947.7 L1228.7,949.1 L1230.1,950.6 L1231.5,952.0 L1232.8,953.5 L1234.1,955.1 L1235.3,956.6 L1236.6,958.2 L1237.8,959.8 L1239.0,961.4 L1240.2,963.1 L1241.3,964.8 L1242.4,966.5 L1243.5,968.2 L1244.6,969.9 L1245.7,971.6 L1246.7,973.4 L1247.7,975.1 L1248.7,976.9 L1249.7,978.6 L1250.7,980.4 L1251.6,982.2 L1252.5,984.0 L1253.4,985.7 L1254.3,987.5 L1255.2,989.3 L1256.1,991.0 L1256.9,992.8" fill="none" stroke="#0000ff" stroke-width="6.7" stroke-linejoin="round" stroke-linecap="round"/>
<line x1="378.0" y1="147.4" x2="424.0" y2="147.4" stroke="#000000" stroke-width="3"/><polygon points="423.0,139.9 427.0,139.9 454.0,147.4 427.0,154.9 423.0,154.9" fill="#000000"/>
<line x1="312.0" y1="403.6" x2="358.7" y2="403.6" stroke="#000000" stroke-width="3"/><polygon points="357.7,396.1 361.7,396.1 386.8,403.6 361.7,411.1 357.7,411.1" fill="#000000"/>
<line x1="325.8" y1="758.0" x2="372.4" y2="758.0" stroke="#000000" stroke-width="3"/><polygon points="371.4,750.5 375.4,750.5 401.7,758.0 375.4,765.5 371.4,765.5" fill="#000000"/>
<line x1="304.5" y1="986.2" x2="349.5" y2="986.2" stroke="#000000" stroke-width="3"/><polygon points="348.5,978.7 352.5,978.7 379.0,986.2 352.5,993.7 348.5,993.7" fill="#000000"/>
<line x1="339.0" y1="40.5" x2="301.8" y2="40.5" stroke="#0000ff" stroke-width="3"/><polygon points="302.8,33.1 298.8,33.1 271.9,40.5 298.8,47.9 302.8,47.9" fill="#0000ff"/>
<line x1="451.4" y1="278.7" x2="414.0" y2="278.7" stroke="#0000ff" stroke-width="3"/><polygon points="415.0,271.3 411.0,271.3 384.8,278.7 411.0,286.1 415.0,286.1" fill="#0000ff"/>
<line x1="347.8" y1="575.4" x2="310.5" y2="575.4" stroke="#0000ff" stroke-width="3"/><polygon points="311.5,568.0 307.5,568.0 280.8,575.4 307.5,582.8 311.5,582.8" fill="#0000ff"/>
<line x1="320.8" y1="904.9" x2="283.0" y2="904.9" stroke="#0000ff" stroke-width="3"/><polygon points="284.0,897.5 280.0,897.5 254.0,904.9 280.0,912.3 284.0,912.3" fill="#0000ff"/>
<text x="332.5" y="1132.5" text-anchor="middle" class="t">550</text>
<text x="650.5" y="1132.5" text-anchor="middle" class="t">600</text>
<text x="969.5" y="1132.5" text-anchor="middle" class="t">650</text>
<text x="1288.5" y="1132.5" text-anchor="middle" class="t">700</text>
<text x="486.5" y="1241.5" class="t" style="font-size:69px">Temperature</text>
<text x="891" y="1241.5" class="t" style="font-size:69px">(</text>
<text x="914" y="1205.5" class="t" style="font-size:41px">o</text>
<text x="935" y="1241.5" class="t" style="font-size:69px">C</text>
<text x="986.5" y="1241.5" class="t" style="font-size:69px">)</text>
<text transform="translate(59.5,539.8) rotate(-90)" text-anchor="middle" class="t" style="font-size:68px;letter-spacing:-0.87px">Heat flow endo up (a. u.)</text>
</svg>
</body></html>
